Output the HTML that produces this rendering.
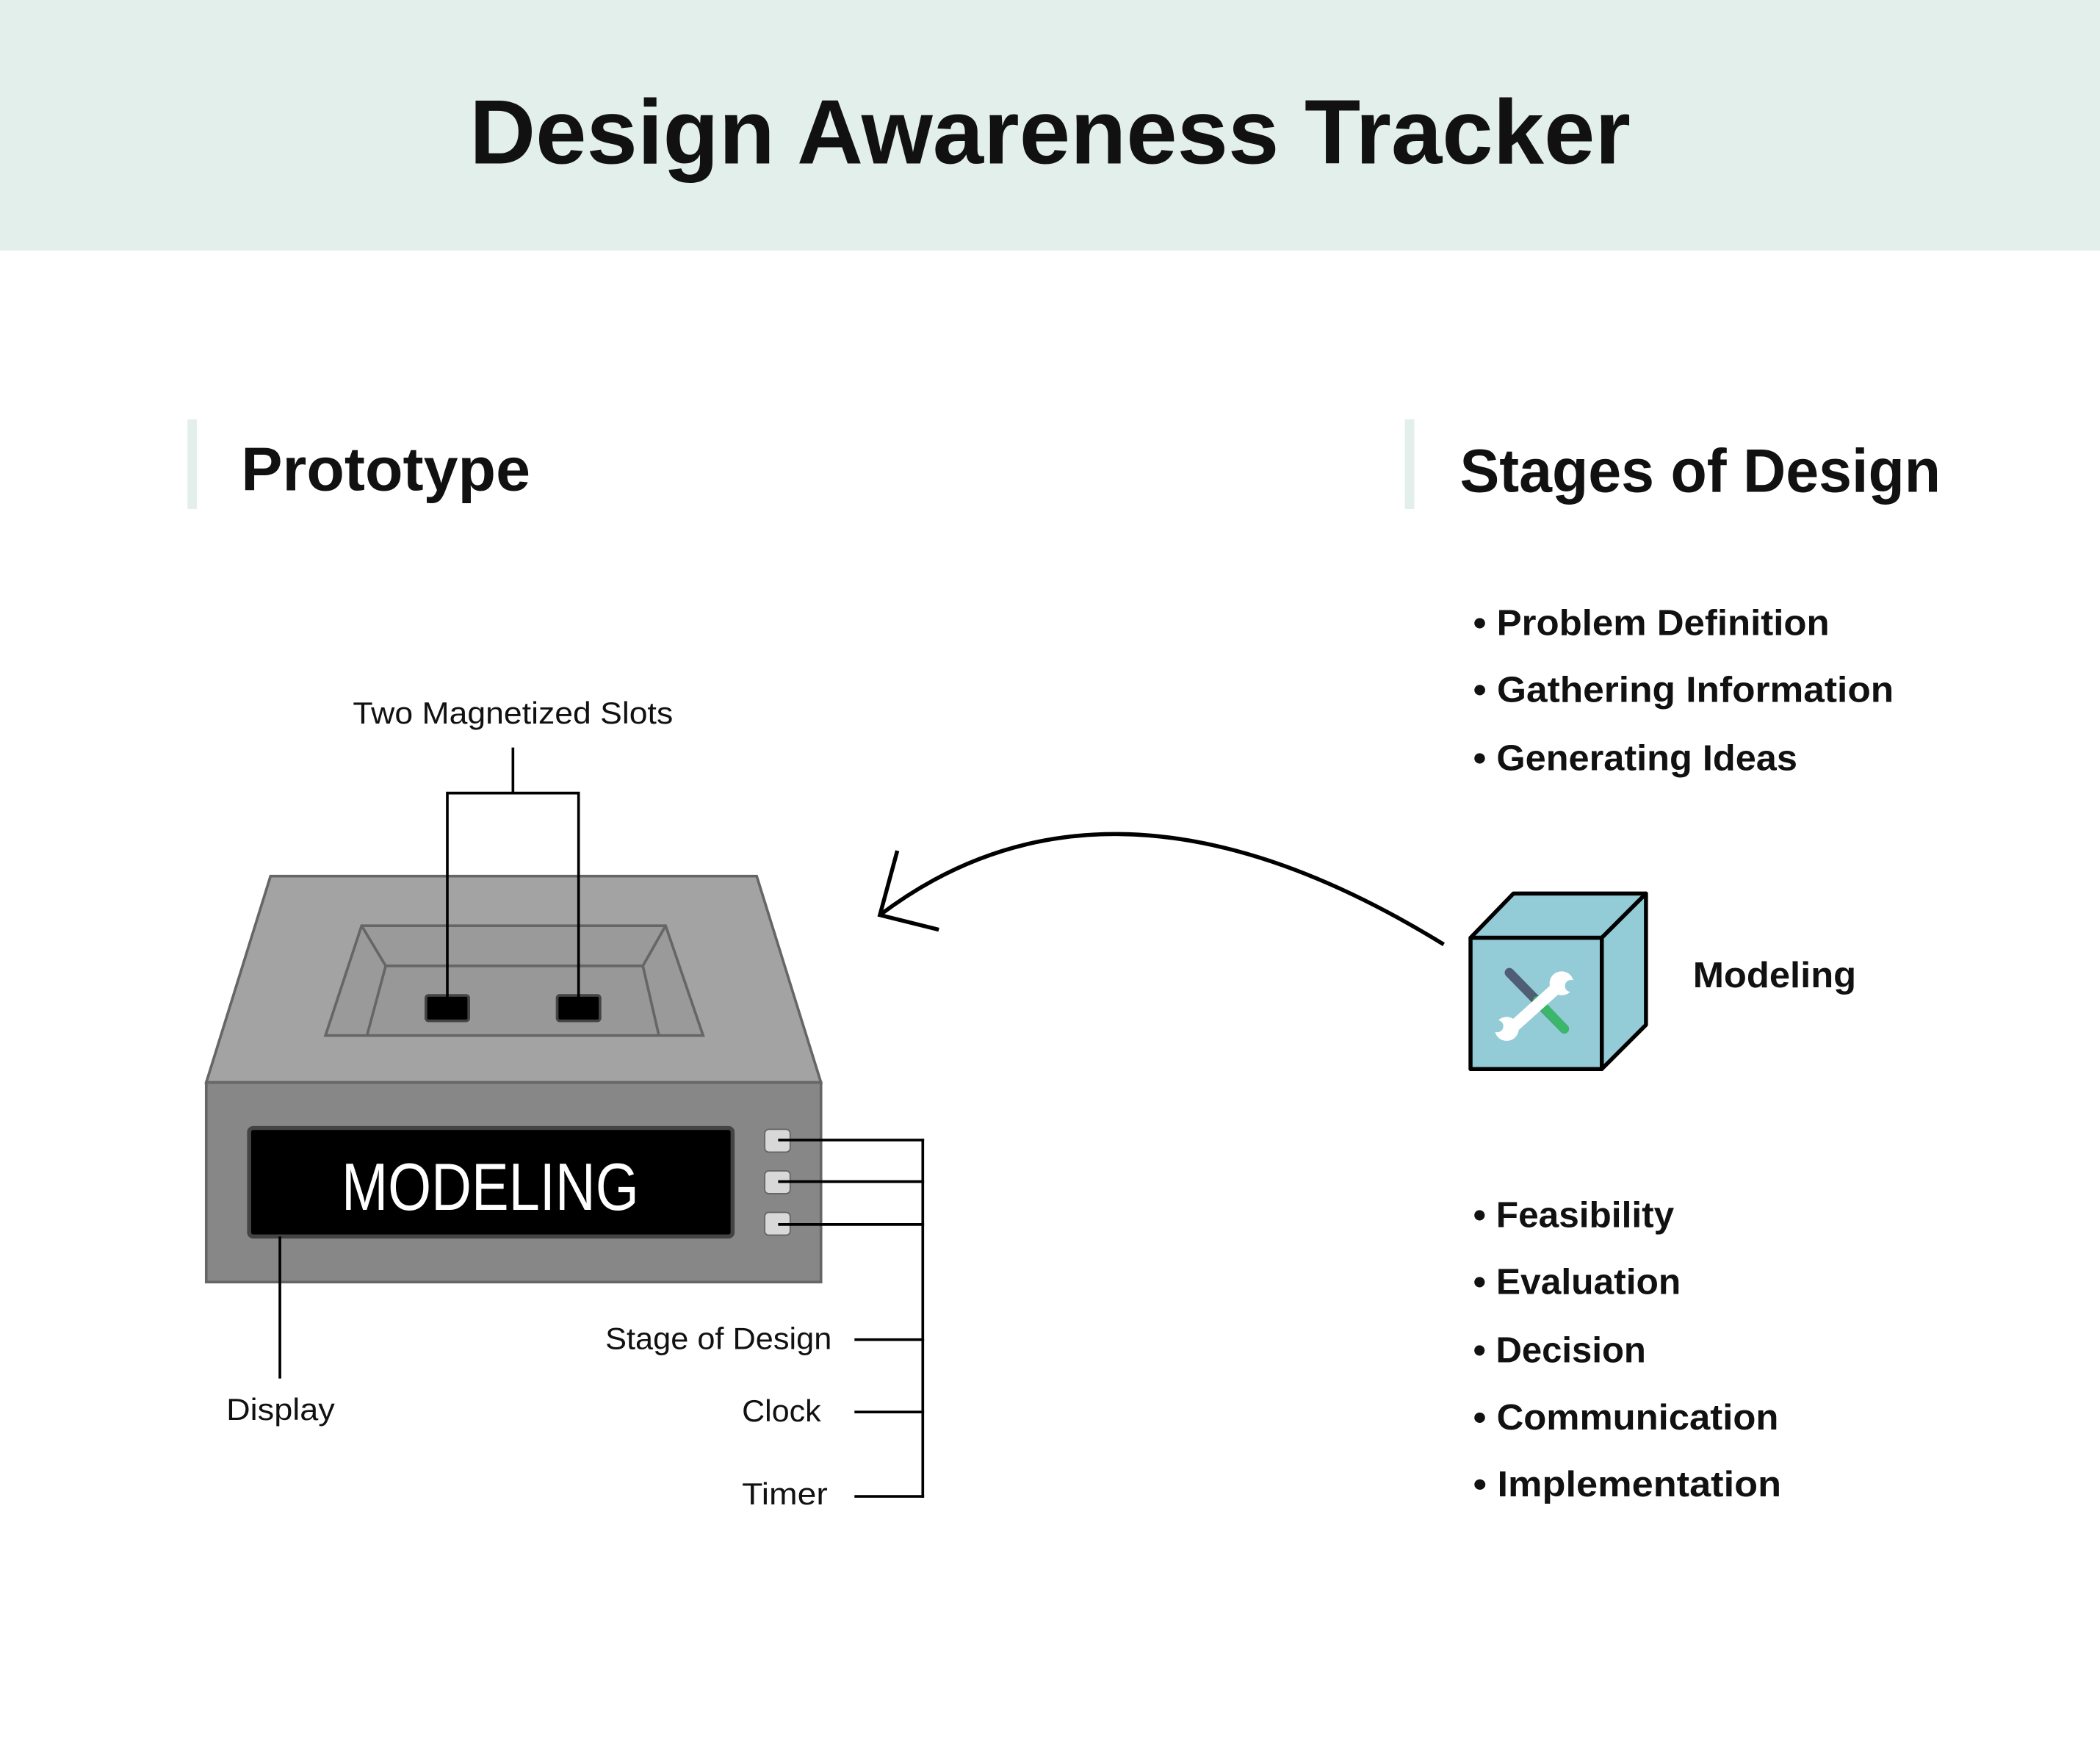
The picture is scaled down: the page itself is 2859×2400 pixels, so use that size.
<!DOCTYPE html>
<html><head><meta charset="utf-8"><style>
html,body{margin:0;padding:0;background:#fff;}
svg{display:block;}
text{font-family:"Liberation Sans",sans-serif;fill:#111;}
</style></head><body>
<svg width="2859" height="2400" viewBox="0 0 1568 1316" preserveAspectRatio="none" xmlns="http://www.w3.org/2000/svg">
<rect x="0" y="0" width="1568" height="187" fill="#e3efeb"/>
<text x="784" y="122" font-size="68" font-weight="bold" text-anchor="middle" textLength="867" lengthAdjust="spacingAndGlyphs">Design Awareness Tracker</text>
<rect x="140" y="313" width="7" height="67" fill="#e3efeb"/>
<text x="180" y="366" font-size="46" font-weight="bold" textLength="216" lengthAdjust="spacingAndGlyphs">Prototype</text>
<rect x="1049" y="313" width="7" height="67" fill="#e3efeb"/>
<text x="1090" y="367" font-size="46" font-weight="bold" textLength="359" lengthAdjust="spacingAndGlyphs">Stages of Design</text>
<g font-size="27" font-weight="bold">
<text x="1100" y="474" textLength="266" lengthAdjust="spacingAndGlyphs">• Problem Definition</text>
<text x="1100" y="524" textLength="314" lengthAdjust="spacingAndGlyphs">• Gathering Information</text>
<text x="1100" y="575" textLength="242" lengthAdjust="spacingAndGlyphs">• Generating Ideas</text>
<text x="1100" y="916" textLength="150" lengthAdjust="spacingAndGlyphs">• Feasibility</text>
<text x="1100" y="966" textLength="155" lengthAdjust="spacingAndGlyphs">• Evaluation</text>
<text x="1100" y="1017" textLength="129" lengthAdjust="spacingAndGlyphs">• Decision</text>
<text x="1100" y="1067" textLength="228" lengthAdjust="spacingAndGlyphs">• Communication</text>
<text x="1100" y="1117" textLength="230" lengthAdjust="spacingAndGlyphs">• Implementation</text>
</g>
<!-- device -->
<polygon points="202,654 565,654 613,808 154,808" fill="#a3a3a3" stroke="#666" stroke-width="2"/>
<polygon points="270,691 497,691 525,773 243,773" fill="#9a9a9a" stroke="#666" stroke-width="2"/>
<polyline points="270,691 288,721 480,721 497,691" fill="none" stroke="#666" stroke-width="2"/>
<polygon points="288,721 480,721 492,773 274,773" fill="#989898" stroke="#666" stroke-width="2"/>
<rect x="154" y="808" width="459" height="149" fill="#868786" stroke="#666" stroke-width="2"/>
<rect x="318" y="743" width="32" height="19" rx="2" fill="#000" stroke="#444" stroke-width="2"/>
<rect x="416" y="743" width="32" height="19" rx="2" fill="#000" stroke="#444" stroke-width="2"/>
<rect x="186" y="842" width="361" height="81" rx="3" fill="#000" stroke="#444" stroke-width="3"/>
<text x="366" y="903" font-size="50" text-anchor="middle" font-family="Liberation Mono,monospace" style="fill:#fff" textLength="222" lengthAdjust="spacingAndGlyphs">MODELING</text>
<rect x="571" y="843" width="19" height="17" rx="3" fill="#d8d8d8" stroke="#666"/>
<rect x="571" y="874" width="19" height="17" rx="3" fill="#d8d8d8" stroke="#666"/>
<rect x="571" y="905" width="19" height="17" rx="3" fill="#d8d8d8" stroke="#666"/>
<g stroke="#000" stroke-width="2" fill="none">
<line x1="581" y1="851" x2="690" y2="851"/>
<line x1="581" y1="882" x2="690" y2="882"/>
<line x1="581" y1="914" x2="690" y2="914"/>
<line x1="689" y1="850" x2="689" y2="1118"/>
<line x1="638" y1="1000" x2="690" y2="1000"/>
<line x1="638" y1="1054" x2="690" y2="1054"/>
<line x1="638" y1="1117" x2="690" y2="1117"/>
<line x1="383" y1="558" x2="383" y2="592"/>
<polyline points="334,752 334,592 432,592 432,752"/>
<line x1="209" y1="923" x2="209" y2="1029"/>
<path d="M1078,705 Q830,552 657,683" stroke-width="3"/>
<polyline points="670,635 657,683 701,694" stroke-width="3"/>
</g>
<g font-size="23">
<text x="383" y="540" text-anchor="middle" textLength="239" lengthAdjust="spacingAndGlyphs">Two Magnetized Slots</text>
<text x="169" y="1060" textLength="81" lengthAdjust="spacingAndGlyphs">Display</text>
<text x="621" y="1007" text-anchor="end" textLength="169" lengthAdjust="spacingAndGlyphs">Stage of Design</text>
<text x="554" y="1061" textLength="59" lengthAdjust="spacingAndGlyphs">Clock</text>
<text x="554" y="1123" textLength="64" lengthAdjust="spacingAndGlyphs">Timer</text>
</g>
<!-- cube -->
<g stroke="#000" stroke-width="3" stroke-linejoin="round" fill="#93cbd6">
<polygon points="1098,700 1130,667 1229,667 1196,700"/>
<polygon points="1196,700 1229,667 1229,765 1196,798"/>
<rect x="1098" y="700" width="98" height="98"/>
</g>
<line x1="1127" y1="726" x2="1168" y2="768" stroke="#4f5d75" stroke-width="7" stroke-linecap="round"/>
<line x1="1148" y1="747" x2="1168" y2="768" stroke="#3bb76b" stroke-width="7" stroke-linecap="round"/>
<line x1="1126" y1="770" x2="1166" y2="734" stroke="#fff" stroke-width="9" stroke-linecap="round"/>
<circle cx="1125" cy="768" r="9" fill="#fff"/><circle cx="1166" cy="734" r="9" fill="#fff"/>
<circle cx="1118" cy="766" r="4.5" fill="#93cbd6"/><circle cx="1173" cy="736" r="4.5" fill="#93cbd6"/>
<text x="1264" y="737" font-size="27" font-weight="bold" textLength="122" lengthAdjust="spacingAndGlyphs">Modeling</text>
</svg>
</body></html>
